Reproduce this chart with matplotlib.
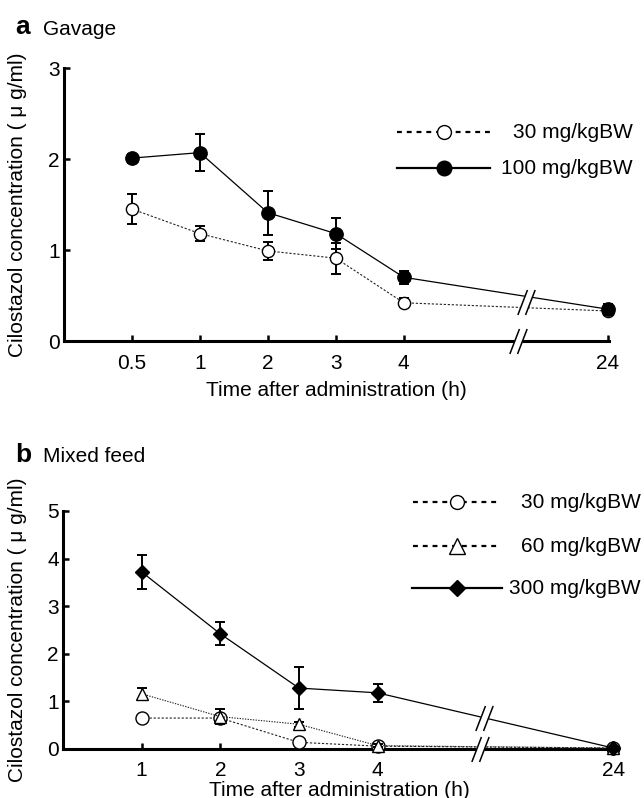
import numpy as np
import matplotlib
matplotlib.use('Agg')
import matplotlib.pyplot as plt
from matplotlib.path import Path
from matplotlib.lines import Line2D

plt.rcParams['font.family'] = ['Liberation Sans', 'DejaVu Sans']

# ---------------- data ----------------
# Panel a : Gavage
a_time_labels = ['0.5', '1', '2', '3', '4', '24']
a_pos = [1, 2, 3, 4, 5, 8]
a_30_mean = [1.45, 1.18, 0.99, 0.91, 0.42, 0.33]
a_30_err = [0.16, 0.08, 0.10, 0.17, 0.05, 0.04]
a_100_mean = [2.01, 2.07, 1.41, 1.18, 0.70, 0.35]
a_100_err = [0.05, 0.20, 0.24, 0.17, 0.07, 0.06]

# Panel b : Mixed feed
b_time_labels = ['1', '2', '3', '4', '24']
b_pos = [1, 2, 3, 4, 7]
b_30_mean = [0.65, 0.65, 0.14, 0.06, 0.02]
b_30_err = [0.03, 0.05, 0.04, 0.02, 0.01]
b_60_mean = [1.16, 0.68, 0.52, 0.07, 0.02]
b_60_err = [0.13, 0.15, 0.05, 0.03, 0.02]
b_300_mean = [3.72, 2.42, 1.28, 1.18, 0.02]
b_300_err = [0.35, 0.24, 0.45, 0.19, 0.03]

legend_a = ['30 mg/kgBW', '100 mg/kgBW']
legend_b = ['30 mg/kgBW', '60 mg/kgBW', '300 mg/kgBW']

# ---------------- layout ----------------
W, H = 644, 798
fig = plt.figure(figsize=(W / 100, H / 100), dpi=100)
FS = 15

ax_a = fig.add_axes([64 / W, 1 - 341 / H, 545 / W, 273 / H])
ax_b = fig.add_axes([63 / W, 1 - 749 / H, 552 / W, 238 / H])

DOT = (0, (2.0, 1.6))
DOT2 = (0, (1.2, 1.2))


def style_axes(ax, xlim, ylim, yticks, pos, labels, ylab_x):
    ax.set_xlim(*xlim)
    ax.set_ylim(*ylim)
    for s in ['top', 'right']:
        ax.spines[s].set_visible(False)
    for s in ['left', 'bottom']:
        ax.spines[s].set_linewidth(2.2)
    ax.set_yticks(yticks)
    ax.set_xticks(pos)
    ax.set_xticklabels(labels)
    ax.tick_params(axis='both', direction='in', length=4, width=1.8,
                   labelsize=FS)
    ax.tick_params(axis='y', pad=3)
    ax.tick_params(axis='x', pad=9)
    ax.set_ylabel('Cilostazol concentration ( μ g/ml)', fontsize=FS)
    ax.yaxis.set_label_coords(ylab_x, 0.5)


def series(ax, pos, mean, err, ls, lw, marker, mfc, ms, z, color='k'):
    ax.errorbar(pos, mean, yerr=err, fmt='none', ecolor='k', elinewidth=1.4,
                capsize=3.5, capthick=1.4, zorder=z, clip_on=False)
    ax.plot(pos, mean, linestyle=ls, lw=lw, color=color, marker=marker,
            mfc=mfc, mec='k', mew=1.0, ms=ms, zorder=z + 0.5, clip_on=False)


# break markers
sv = np.array([[-9, -13], [1, 13], [-1, -13], [9, 13]], dtype=float)
slash_path = Path(sv, [Path.MOVETO, Path.LINETO, Path.MOVETO, Path.LINETO])
gap_path = Path(np.array([[-9, -13], [1, 13], [9, 13], [-1, -13], [-9, -13]],
                         dtype=float),
                [Path.MOVETO, Path.LINETO, Path.LINETO, Path.LINETO,
                 Path.CLOSEPOLY])


def brk(ax, x, y):
    ax.plot([x], [y], marker=gap_path, ms=18, mfc='white', mec='white',
            mew=0.5, ls='none', zorder=20, clip_on=False)
    ax.plot([x], [y], marker=slash_path, ms=18, mfc='none', mec='k',
            mew=1.1, ls='none', zorder=21, clip_on=False)


# ---------------- panel a ----------------
style_axes(ax_a, (0, 8.02), (0, 3), [0, 1, 2, 3], a_pos, a_time_labels,
           -0.068)
ax_a.set_xlabel('Time after administration (h)', fontsize=FS, labelpad=6)
series(ax_a, a_pos, a_30_mean, a_30_err, DOT, 0.8, 'o', 'white', 8.8, 3,
       color='#222222')
series(ax_a, a_pos, a_100_mean, a_100_err, '-', 0.9, 'o', 'black', 9.6, 5)

a_break = 6.68
ya = 0.5 * (np.interp(a_break + 0.12, a_pos, a_30_mean)
            + np.interp(a_break + 0.12, a_pos, a_100_mean))
brk(ax_a, a_break, 0)
brk(ax_a, a_break + 0.12, ya)

# ---------------- panel b ----------------
style_axes(ax_b, (0, 7.02), (0, 5), [0, 1, 2, 3, 4, 5], b_pos, b_time_labels,
           -0.065)
ax_b.set_xlabel('Time after administration (h)', fontsize=FS, labelpad=0)
series(ax_b, b_pos, b_30_mean, b_30_err, DOT, 0.8, 'o', 'white', 9.4, 3,
       color='#222222')
series(ax_b, b_pos, b_60_mean, b_60_err, DOT2, 0.8, '^', 'white', 9.0, 4,
       color='#222222')
series(ax_b, b_pos, b_300_mean, b_300_err, '-', 0.9, 'D', 'black', 7.6, 6)

b_break = 5.3
brk(ax_b, b_break, 0)
brk(ax_b, b_break + 0.05, np.interp(b_break + 0.05, b_pos, b_300_mean))

# ---------------- legends (manual) ----------------
def legend_row(y, x0, x1, xm, xt, text, ls, marker, mfc, ms):
    fy = 1 - y / H
    fig.add_artist(Line2D([x0 / W, x1 / W], [fy, fy], ls=ls, color='k',
                          lw=1.6))
    fig.add_artist(Line2D([xm / W], [fy], marker=marker, mfc=mfc, mec='k',
                          mew=1.0, ms=ms, ls='none'))
    fig.text(xt / W, fy, text, ha='right', va='center', fontsize=FS)


LDASH = (0, (2.2, 2.2))
legend_row(132, 397, 490, 444, 633, legend_a[0], LDASH, 'o', 'white', 10)
legend_row(168, 397, 490, 444, 633, legend_a[1], '-', 'o', 'black', 10.5)

legend_row(502, 413, 500, 457, 641, legend_b[0], LDASH, 'o', 'white', 10)
legend_row(546, 413, 500, 457, 641, legend_b[1], LDASH, '^', 'white', 11)
legend_row(588, 412, 502, 457, 641, legend_b[2], '-', 'D', 'black', 8.5)

# ---------------- panel titles ----------------
fig.text(15 / W, 1 - 34 / H, 'a', fontsize=19, fontweight='bold',
         ha='left', va='baseline')
fig.text(43 / W, 1 - 35 / H, 'Gavage', fontsize=FS, ha='left', va='baseline')
fig.text(15 / W, 1 - 462 / H, 'b', fontsize=19, fontweight='bold',
         ha='left', va='baseline')
fig.text(43 / W, 1 - 462 / H, 'Mixed feed', fontsize=FS, ha='left',
         va='baseline')

fig.savefig('out.png', dpi=100)
